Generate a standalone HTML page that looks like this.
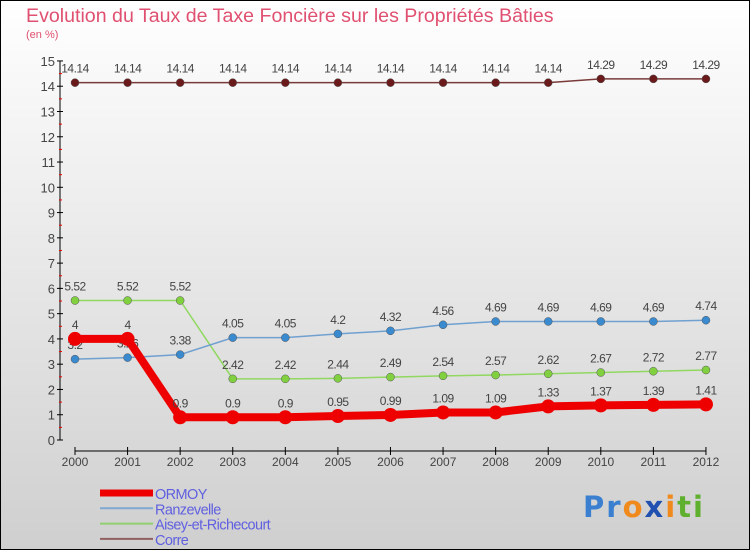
<!DOCTYPE html>
<html><head><meta charset="utf-8"><style>
body{margin:0;width:750px;height:550px;overflow:hidden;font-family:"Liberation Sans",sans-serif}
</style></head><body>
<svg width="750" height="550" xmlns="http://www.w3.org/2000/svg">
<defs><linearGradient id="bg" x1="0" y1="0" x2="0" y2="1"><stop offset="0" stop-color="#ffffff"/><stop offset="1" stop-color="#cfcfcf"/></linearGradient></defs>
<rect x="0.5" y="0.5" width="749" height="549" fill="url(#bg)" stroke="#000"/>
<text x="26" y="22" font-size="19.6" fill="#e05070">Evolution du Taux de Taxe Foncière sur les Propriétés Bâties</text>
<text x="26" y="38" font-size="11" fill="#e05070">(en %)</text>
<g id="axes"></g><g id="series"></g><g id="legend"></g>
<text x="583" y="517" font-size="29" font-weight="bold" letter-spacing="2" font-family="DejaVu Sans, sans-serif"><tspan fill="#3a7fd0">Pr</tspan><tspan fill="#f08a1c">o</tspan><tspan fill="#2050b0">x</tspan><tspan fill="#f08a1c">i</tspan><tspan fill="#60b030">ti</tspan></text>
</svg>
<script>
const years=[2000,2001,2002,2003,2004,2005,2006,2007,2008,2009,2010,2011,2012];
const ormoy=[4,4,0.9,0.9,0.9,0.95,0.99,1.09,1.09,1.33,1.37,1.39,1.41];
const ranzevelle=[3.2,3.26,3.38,4.05,4.05,4.2,4.32,4.56,4.69,4.69,4.69,4.69,4.74];
const aisey=[5.52,5.52,5.52,2.42,2.42,2.44,2.49,2.54,2.57,2.62,2.67,2.72,2.77];
const corre=[14.14,14.14,14.14,14.14,14.14,14.14,14.14,14.14,14.14,14.14,14.29,14.29,14.29];
const yTicks=[0,1,2,3,4,5,6,7,8,9,10,11,12,13,14,15];
const NS="http://www.w3.org/2000/svg";
const x=i=>75+i*52.58, y=v=>440-v*25.27;
function mk(t,a,p){const e=document.createElementNS(NS,t);for(const k in a)e.setAttribute(k,a[k]);p.appendChild(e);return e;}
const ax=document.getElementById('axes');
const yl=mk('line',{x1:60,y1:y(15),x2:60,y2:440,stroke:'#000'},ax);


yTicks.forEach(v=>{
  mk('line',{x1:57,x2:63,y1:y(v),y2:y(v),stroke:'#000'},ax);
  if(v<15)mk('line',{x1:59,x2:62,y1:y(v+0.5),y2:y(v+0.5),stroke:'#e00'},ax);
  const t=mk('text',{x:55,y:y(v)+5,'text-anchor':'end','font-size':13,fill:'#444'},ax);t.textContent=v;
  
  
});
const xl=mk('line',{x1:x(0),y1:451,x2:x(12),y2:451,stroke:'#000'},ax);


years.forEach((yr,i)=>{
  mk('line',{x1:x(i),x2:x(i),y1:447,y2:455,stroke:'#000'},ax);
  const t=mk('text',{x:x(i),y:466,'text-anchor':'middle','font-size':12,fill:'#444'},ax);t.textContent=yr;
  
  
});
const sg=document.getElementById('series');
function series(d,col,dot,w,r,name,dy){
  const g=mk('g',{},sg);
  
  
  mk('polyline',{points:d.map((v,i)=>x(i)+','+y(v)).join(' '),fill:'none',stroke:col,'stroke-width':w},g);
  d.forEach((v,i)=>{
    const c=mk('circle',{cx:x(i),cy:y(v),r:r,fill:dot,stroke:'#555','stroke-width':r>5?0:0.5},g);
    
    
    const t=mk('text',{x:x(i),y:y(v)+dy,'text-anchor':'middle','font-size':12,fill:'#444','letter-spacing':'-0.5'},g);
    t.textContent=String(v);
    
    
  });
}
series(corre,'#7a3a3a','#6a1a1a',1.5,4,'series-corre',-10);
series(aisey,'#90d860','#80d040',1.5,4,'series-aisey',-10);
series(ranzevelle,'#70a0d0','#3a8ad0',1.5,4,'series-ranzevelle',-10);
series(ormoy,'#ee0000','#ee0000',8,7,'series-ormoy',-10);
const lg=document.getElementById('legend');
[['ORMOY','#ee0000',7],['Ranzevelle','#80a8d0',2],['Aisey-et-Richecourt','#90d070',2],['Corre','#906060',2]].forEach((e,i)=>{
  const yy=493+i*15.3;
  const l=mk('line',{x1:100,x2:153,y1:yy,y2:yy,stroke:e[1],'stroke-width':e[2]},lg);
  
  
  const t=mk('text',{x:155,y:yy+6,'font-size':14.5,fill:'#6060e0','letter-spacing':'-0.6'},lg);t.textContent=e[0];
  
  
});
</script>
</body></html>
